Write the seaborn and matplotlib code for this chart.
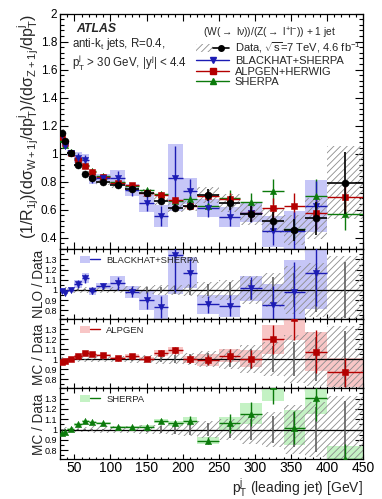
import numpy as np
import pandas as pd
import matplotlib
matplotlib.use("Agg")
import matplotlib.pyplot as plt
import seaborn as sns
from matplotlib.patches import Patch
from matplotlib.lines import Line2D
from matplotlib.legend_handler import HandlerTuple
from matplotlib.ticker import MultipleLocator, FixedLocator, FuncFormatter

# ---------------- data ----------------
bin_edges = [30, 35, 40, 50, 60, 70, 80, 100, 120, 140, 160, 180, 200, 220,
             250, 280, 310, 340, 370, 400, 450]

data_val = [1.145, 1.090, 1.003, 0.917, 0.853, 0.822, 0.797, 0.775, 0.750, 0.718,
            0.664, 0.614, 0.626, 0.706, 0.648, 0.567, 0.517, 0.454, 0.537, 0.790]
data_stat_rel = [0.005, 0.006, 0.006, 0.007, 0.008, 0.009, 0.010, 0.013, 0.018, 0.025,
                 0.030, 0.040, 0.050, 0.060, 0.080, 0.100, 0.130, 0.170, 0.220, 0.280]
data_syst_rel = [0.025, 0.025, 0.025, 0.025, 0.025, 0.030, 0.030, 0.030, 0.035, 0.040,
                 0.045, 0.050, 0.060, 0.080, 0.100, 0.140, 0.170, 0.240, 0.270, 0.330]

# BlackHat+SHERPA (NLO) - 19 bins (up to 400 GeV)
bh_val = [1.130, 1.057, 1.003, 0.970, 0.952, 0.817, 0.828, 0.828, 0.738, 0.644,
          0.552, 0.828, 0.733, 0.611, 0.549, 0.578, 0.444, 0.447, 0.626]
bh_ratio = [0.987, 0.970, 1.000, 1.058, 1.116, 0.994, 1.039, 1.068, 0.984, 0.897,
            0.832, 1.348, 1.171, 0.858, 0.845, 1.019, 0.848, 0.984, 1.168]
bh_band_rel = [0.015, 0.015, 0.020, 0.040, 0.045, 0.040, 0.030, 0.065, 0.060, 0.100,
               0.140, 0.290, 0.130, 0.110, 0.130, 0.120, 0.250, 0.320, 0.300]
bh_err_rel = [0.012, 0.012, 0.015, 0.035, 0.040, 0.035, 0.025, 0.060, 0.055, 0.090,
              0.130, 0.270, 0.120, 0.100, 0.120, 0.110, 0.220, 0.300, 0.280]

# ALPGEN+HERWIG
al_val = [1.118, 1.075, 1.003, 0.951, 0.908, 0.870, 0.835, 0.786, 0.776, 0.718,
          0.707, 0.669, 0.628, 0.696, 0.672, 0.573, 0.612, 0.627, 0.575, 0.691]
al_ratio = [0.976, 0.986, 1.000, 1.037, 1.065, 1.058, 1.048, 1.014, 1.034, 1.000,
            1.065, 1.089, 1.003, 0.993, 1.037, 1.007, 1.200, 1.410, 1.078, 0.871]
al_band_rel = [0.008, 0.008, 0.008, 0.010, 0.010, 0.010, 0.010, 0.012, 0.015, 0.020,
               0.025, 0.030, 0.035, 0.060, 0.065, 0.085, 0.120, 0.150, 0.180, 0.170]
al_err_rel = [0.008, 0.008, 0.008, 0.010, 0.010, 0.010, 0.010, 0.012, 0.015, 0.020,
              0.025, 0.035, 0.040, 0.050, 0.065, 0.090, 0.120, 0.150, 0.200, 0.170]

# SHERPA
sh_val = [1.107, 1.061, 1.010, 0.958, 0.918, 0.875, 0.843, 0.796, 0.770, 0.737,
          0.710, 0.660, 0.677, 0.625, 0.680, 0.652, 0.730, 0.463, 0.700, 0.565]
sh_ratio = [0.967, 0.973, 1.007, 1.050, 1.083, 1.077, 1.063, 1.027, 1.027, 1.027,
            1.083, 1.060, 1.087, 0.893, 1.060, 1.153, 1.420, 1.020, 1.310, 0.715]
sh_band_rel = [0.010, 0.010, 0.010, 0.010, 0.010, 0.010, 0.010, 0.010, 0.012, 0.015,
               0.020, 0.025, 0.030, 0.035, 0.060, 0.090, 0.100, 0.170, 0.120, 0.170]
sh_err_rel = [0.010, 0.010, 0.010, 0.010, 0.010, 0.010, 0.010, 0.010, 0.012, 0.015,
              0.020, 0.025, 0.040, 0.035, 0.090, 0.100, 0.120, 0.160, 0.170, 0.200]

x_major_ticks = [50, 100, 150, 200, 250, 300, 350, 400, 450]
main_yticks = [0.4, 0.6, 0.8, 1.0, 1.2, 1.4, 1.6, 1.8, 2.0]
ratio_yticks = [0.8, 0.9, 1.0, 1.1, 1.2, 1.3]

# ---------------- styling ----------------
sns.set_theme(style="ticks")
plt.rcParams['font.family'] = ['Liberation Sans', 'DejaVu Sans']
plt.rcParams.update({
    'mathtext.fontset': 'custom',
    'mathtext.rm': 'Liberation Sans',
    'mathtext.it': 'Liberation Sans:italic',
    'mathtext.bf': 'Liberation Sans:bold',
    'mathtext.sf': 'Liberation Sans',
    'mathtext.default': 'regular',
    'hatch.linewidth': 0.6,
    'axes.linewidth': 0.9,
    'axes.edgecolor': 'black',
    'xtick.color': 'black',
    'ytick.color': 'black',
})

BLUE = '#1c1cb4'
BLUE_BAND = '#c6c6f7'
RED = '#b40000'
RED_BAND = '#f8c6c6'
GREEN = '#0b7a0b'
GREEN_BAND = '#c4f2c4'
HATCH_COL = '#8c8c8c'
HATCH = '/////'

edges = np.array(bin_edges, dtype=float)
centers = 0.5 * (edges[:-1] + edges[1:])
halfw = 0.5 * np.diff(edges)
widths = np.diff(edges)
nb = len(bh_val)

df = pd.DataFrame({'x': centers, 'lo': edges[:-1], 'w': widths, 'hw': halfw,
                   'data': data_val, 'stat': np.array(data_stat_rel) * np.array(data_val),
                   'syst': np.array(data_syst_rel) * np.array(data_val),
                   'al': al_val, 'al_r': al_ratio, 'sh': sh_val, 'sh_r': sh_ratio})
dbh = pd.DataFrame({'x': centers[:nb], 'lo': edges[:nb], 'w': widths[:nb], 'hw': halfw[:nb],
                    'bh': bh_val, 'bh_r': bh_ratio})

W, H = 382, 499
fig = plt.figure(figsize=(W / 100, H / 100), dpi=100)


def rect(top, bot):
    return [60 / W, 1 - bot / H, 303 / W, (bot - top) / H]


ax0 = fig.add_axes(rect(13.5, 249.3))
ax1 = fig.add_axes(rect(249.3, 319.3), sharex=ax0)
ax2 = fig.add_axes(rect(319.3, 388.3), sharex=ax0)
ax3 = fig.add_axes(rect(388.3, 459.3), sharex=ax0)

# ---------------- main panel ----------------
bh_b = np.array(bh_band_rel) * np.array(bh_val)
ax0.bar(dbh['lo'], 2 * bh_b, bottom=np.array(bh_val) - bh_b, width=dbh['w'], align='edge',
        color=BLUE_BAND, linewidth=0, zorder=1)
ax0.bar(df['lo'], 2 * df['syst'], bottom=df['data'] - df['syst'], width=df['w'], align='edge',
        facecolor='none', edgecolor=HATCH_COL, hatch=HATCH, linewidth=0, zorder=2)

for vals, rel, col, mk, n in [(sh_val, sh_err_rel, GREEN, '^', 20),
                              (al_val, al_err_rel, RED, 's', 20),
                              (bh_val, bh_err_rel, BLUE, 'v', nb)]:
    v = np.array(vals)
    ax0.errorbar(centers[:n], v, xerr=halfw[:n], yerr=np.array(rel) * v, fmt='none',
                 ecolor=col, elinewidth=1.0, capsize=0, zorder=3)
    sns.scatterplot(x=centers[:n], y=v, ax=ax0, marker=mk, color=col, s=20,
                    edgecolor=col, linewidth=0.4, zorder=4, legend=False)

ax0.errorbar(df['x'], df['data'], xerr=df['hw'], yerr=df['stat'], fmt='none',
             ecolor='black', elinewidth=1.2, capsize=0, zorder=5)
sns.scatterplot(data=df, x='x', y='data', ax=ax0, marker='o', color='black', s=26,
                edgecolor='black', linewidth=0.3, zorder=6, legend=False)

ax0.set_xlim(30, 450)
ax0.set_ylim(0.316, 2.0)

# ---------------- ratio panels ----------------
ones = np.ones(len(centers))
ratio_sets = [
    (ax1, centers[:nb], halfw[:nb], edges[:nb], widths[:nb], bh_ratio, bh_band_rel, bh_err_rel, BLUE, BLUE_BAND, 'v'),
    (ax2, centers, halfw, edges[:-1], widths, al_ratio, al_band_rel, al_err_rel, RED, RED_BAND, 's'),
    (ax3, centers, halfw, edges[:-1], widths, sh_ratio, sh_band_rel, sh_err_rel, GREEN, GREEN_BAND, '^'),
]
for ax, xc, hw, lo, w, r, brel, erel, col, bcol, mk in ratio_sets:
    r = np.array(r)
    b = np.array(brel) * r
    ax.bar(lo, 2 * b, bottom=r - b, width=w, align='edge', color=bcol, linewidth=0, zorder=1)
    ax.bar(df['lo'], 2 * np.array(data_syst_rel), bottom=1 - np.array(data_syst_rel), width=df['w'],
           align='edge', facecolor='none', edgecolor=HATCH_COL, hatch=HATCH, linewidth=0, zorder=2)
    ax.axhline(1.0, color='black', lw=0.9, zorder=3)
    ax.errorbar(centers, ones, yerr=np.array(data_stat_rel), fmt='none', ecolor='#555555',
                elinewidth=1.1, capsize=0, zorder=3)
    ax.errorbar(xc, r, xerr=hw, yerr=np.array(erel) * r, fmt='none', ecolor=col,
                elinewidth=1.0, capsize=0, zorder=4)
    sns.scatterplot(x=xc, y=r, ax=ax, marker=mk, color=col, s=20, edgecolor=col,
                    linewidth=0.4, zorder=5, legend=False)
    ax.set_ylim(0.712, 1.40)
    ax.yaxis.set_major_locator(FixedLocator(ratio_yticks))
    ax.yaxis.set_minor_locator(MultipleLocator(0.05))

# ---------------- axes formatting ----------------
fmt = FuncFormatter(lambda v, p: f"{v:g}")
for ax in (ax0, ax1, ax2, ax3):
    ax.xaxis.set_major_locator(FixedLocator(x_major_ticks))
    ax.xaxis.set_minor_locator(MultipleLocator(10))
    ax.yaxis.set_major_formatter(fmt)
    ax.set_xlabel('')
    ax.set_ylabel('')
    for s in ax.spines.values():
        s.set_visible(True)
        s.set_color('black')
        s.set_linewidth(0.9)
    ax.tick_params(which='both', direction='in', top=True, right=True, width=0.8)

ax0.yaxis.set_major_locator(FixedLocator(main_yticks))
ax0.yaxis.set_minor_locator(MultipleLocator(0.04))
ax0.tick_params(axis='y', which='major', length=5.8, labelsize=8.5, pad=2)
ax0.tick_params(axis='y', which='minor', length=2.9)
ax0.tick_params(axis='x', which='major', length=5.0)
ax0.tick_params(axis='x', which='minor', length=2.5)
for ax in (ax1, ax2, ax3):
    ax.tick_params(axis='y', which='major', length=5.8, labelsize=6.5, pad=2)
    ax.tick_params(axis='y', which='minor', length=2.9)
    ax.tick_params(axis='x', which='major', length=3.6)
    ax.tick_params(axis='x', which='minor', length=1.8)
for ax in (ax0, ax1, ax2):
    ax.tick_params(axis='x', labelbottom=False)
ax3.tick_params(axis='x', which='major', labelsize=10, pad=1.5)

# labels
ax0.set_ylabel(r"(1/R$_{1j}$)(d$\sigma_{W+1j}$/dp$_{T}^{j}$)/(d$\sigma_{Z+1j}$/dp$_{T}^{j}$)",
               fontsize=11.5, loc='top')
ax0.yaxis.set_label_coords(-0.066, 1.0)
ax1.set_ylabel("NLO / Data", fontsize=9.8)
ax2.set_ylabel("MC / Data", fontsize=9.8)
ax3.set_ylabel("MC / Data", fontsize=9.8)
for ax in (ax1, ax2, ax3):
    ax.yaxis.set_label_coords(-0.046, 0.5)
ax3.set_xlabel(r"p$_{T}^{j}$ (leading jet) [GeV]", fontsize=10, loc='right')
ax3.xaxis.set_label_coords(1.0, -0.25)

# annotations
ax0.text(0.055, 0.936, "ATLAS", fontsize=8.8, fontweight='bold', fontstyle='italic',
         va='center', ha='left', transform=ax0.transAxes)
ax0.text(0.040, 0.870, r"anti-k$_{t}$ jets, R=0.4,", fontsize=8.3, va='center', ha='left',
         transform=ax0.transAxes)
ax0.text(0.040, 0.790, r"p$_{T}^{j}$ > 30 GeV, |y$^{j}$| < 4.4", fontsize=8.3, va='center',
         ha='left', transform=ax0.transAxes)
ax0.text(0.472, 0.917, r"(W($\rightarrow$ l$\nu$))/(Z($\rightarrow$ l$^{+}$l$^{-}$)) + 1 jet",
         fontsize=7.4, va='center', ha='left', transform=ax0.transAxes)

h_data = (Patch(facecolor='none', edgecolor=HATCH_COL, hatch=HATCH, linewidth=0),
          Line2D([], [], color='black', marker='o', ms=4.0, lw=1.2))
h_bh = Line2D([], [], color=BLUE, marker='v', ms=4.0, lw=1.0)
h_al = Line2D([], [], color=RED, marker='s', ms=3.8, lw=1.0)
h_sh = Line2D([], [], color=GREEN, marker='^', ms=4.0, lw=1.0)
leg = ax0.legend([h_data, h_bh, h_al, h_sh],
                 [r"Data, $\sqrt{s}$=7 TeV, 4.6 fb$^{-1}$", "BLACKHAT+SHERPA",
                  "ALPGEN+HERWIG", "SHERPA"],
                 handler_map={tuple: HandlerTuple(ndivide=None, pad=0)},
                 loc='upper left', bbox_to_anchor=(0.449, 0.885), frameon=False,
                 fontsize=8.0, handlelength=3.0, handletextpad=0.5, labelspacing=0.05,
                 borderpad=0, borderaxespad=0)

for ax, lab, col, bcol in [(ax1, "BLACKHAT+SHERPA", BLUE, BLUE_BAND),
                           (ax2, "ALPGEN", RED, RED_BAND),
                           (ax3, "SHERPA", GREEN, GREEN_BAND)]:
    hh = (Patch(facecolor=bcol, edgecolor='none'), Line2D([], [], color=col, lw=1.0))
    ax.legend([hh], [lab], handler_map={tuple: HandlerTuple(ndivide=None, pad=0)},
              loc='upper left', bbox_to_anchor=(0.066, 0.91), frameon=False, fontsize=6.8,
              handlelength=2.1, handletextpad=0.7, borderpad=0, borderaxespad=0)

fig.savefig("out.png", dpi=100)
